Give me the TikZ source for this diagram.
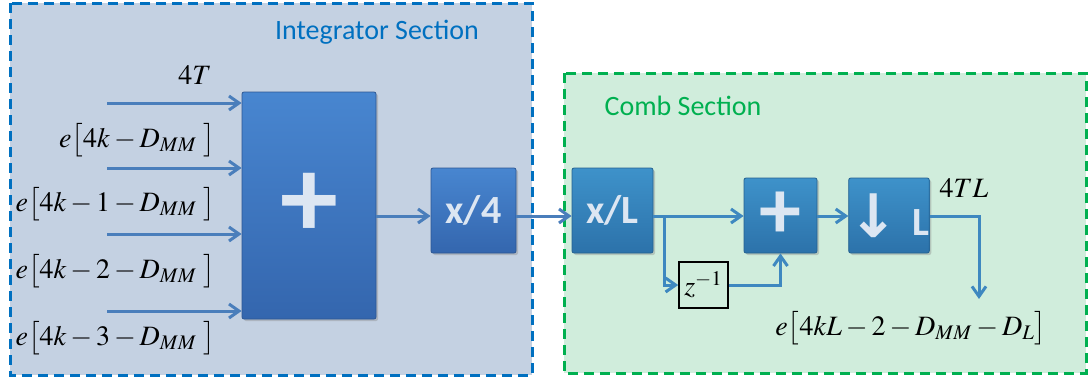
\documentclass[tikz,border=0pt]{standalone}
\usepackage{mathptmx}
\usepackage[no-math]{fontspec}
\setsansfont{Carlito}
\newfontfamily\arrowfont{DejaVu Sans}
\usetikzlibrary{arrows.meta,shadows}
\definecolor{intblue}{RGB}{0,112,192}
\definecolor{combgreen}{RGB}{0,176,80}
\definecolor{intbg}{RGB}{196,209,226}
\definecolor{combbg}{RGB}{208,237,220}
\definecolor{wire}{RGB}{74,126,187}
\definecolor{wiretwo}{RGB}{62,136,192}
\definecolor{blktop}{RGB}{72,134,208}
\definecolor{blkbot}{RGB}{52,102,174}
\definecolor{combtop}{RGB}{62,146,202}
\definecolor{combbot}{RGB}{44,114,170}
\definecolor{blktext}{RGB}{220,230,242}

\tikzset{
  blk/.style={rectangle, top color=blktop, bottom color=blkbot, draw=blkbot!85!black,
    line width=0.4pt, rounded corners=1pt, inner sep=0pt,
    drop shadow={opacity=0.35,shadow xshift=1pt,shadow yshift=-1pt},
    text=blktext, font=\sffamily\bfseries\fontsize{20}{20}\selectfont},
  cblk/.style={blk, top color=combtop, bottom color=combbot, draw=combbot!85!black},
  sig/.style={line width=1.5pt, draw=wire, -{Straight Barb[length=5pt,width=7pt]}},
  lbl/.style={font=\fontsize{14}{17}\selectfont},
  sect/.style={line width=1.5pt, dash pattern=on 5pt off 3pt},
}

\begin{document}
\begin{tikzpicture}[x=0.5pt,y=-0.5pt]
    \useasboundingbox (0,0) rectangle (1088,381);

    % the two sections
    \filldraw[sect, fill=intbg, draw=intblue] (10,3) rectangle (532,375);
    \filldraw[sect, fill=combbg, draw=combgreen] (564,73) rectangle (1086,373);
    \node[font=\sffamily\fontsize{14}{14}\selectfont, text=intblue] (inttitle) at (377,32) {Integrator Section};
    \node[font=\sffamily\fontsize{14}{14}\selectfont, text=combgreen] (combtitle) at (683,106) {Comb Section};

    \coordinate (ln) at (0,216);

    % integrator
    \node[blk, minimum width=67pt, minimum height=113.5pt, font=\sffamily\bfseries\fontsize{58}{58}\selectfont] (sum1) at (309,205.5) {+};
    \node[blk, minimum width=42.5pt, minimum height=42.5pt] (div4) at (473.5,210.5) {x/4};

    \coordinate (in1) at (107,103);
    \coordinate (in2) at (107,168);
    \coordinate (in3) at (107,234);
    \coordinate (in4) at (107,311);

    \node[lbl] (t4) at (195,75) {$4T$};
    \node[lbl, anchor=east] (e0) at (222,140) {$e\bigl[4k-D_{MM}\;\bigr]$};
    \node[lbl, anchor=east] (e1) at (222,204) {$e\bigl[4k-1-D_{MM}\;\bigr]$};
    \node[lbl, anchor=east] (e2) at (222,271) {$e\bigl[4k-2-D_{MM}\;\bigr]$};
    \node[lbl, anchor=east] (e3) at (222,338) {$e\bigl[4k-3-D_{MM}\;\bigr]$};

    % comb
    \node[cblk, minimum width=40.5pt, minimum height=42.5pt] (divL) at (612.5,210.5) {x/L};
    \node[cblk, minimum width=36.5pt, minimum height=37.5pt, font=\sffamily\bfseries\fontsize{42}{42}\selectfont] (sum2) at (780.5,215.5) {+};
    \node[cblk, minimum width=37pt, minimum height=37.5pt] (dec) at (889,215.5) {\raisebox{-1pt}{\arrowfont\fontsize{30}{30}\selectfont ↓}\,\,L};
    \node[draw=black, line width=0.8pt, minimum width=24.5pt, minimum height=23pt, inner sep=0pt, lbl] (zinv) at (703.5,285) {$z^{-1}$};

    \coordinate (br) at (664,216);
    \coordinate (out) at (979,299);

    \node[lbl] (t4l) at (964,188) {$4TL$};
    \node[lbl] (eout) at (911,328) {$e\bigl[4kL-2-D_{MM}-D_L\bigr]$};

    % signals
    \foreach \i in {1,...,4}
        \draw[sig] (in\i) -- (in\i -| sum1.west);
    \draw[sig] (sum1.east |- ln) -- (div4.west |- ln);
    \draw[sig] (div4.east |- ln) -- (divL.west |- ln);
    \draw[sig, draw=wiretwo] (divL.east |- ln) -- (sum2.west |- ln);
    \draw[sig, draw=wiretwo] (br) |- (zinv.west);
    \draw[sig, draw=wiretwo] (zinv.east) -| (sum2.south);
    \draw[sig, draw=wiretwo] (sum2.east |- ln) -- (dec.west |- ln);
    \draw[sig, draw=wiretwo] (dec.east |- ln) -| (out);
\end{tikzpicture}
\end{document}
